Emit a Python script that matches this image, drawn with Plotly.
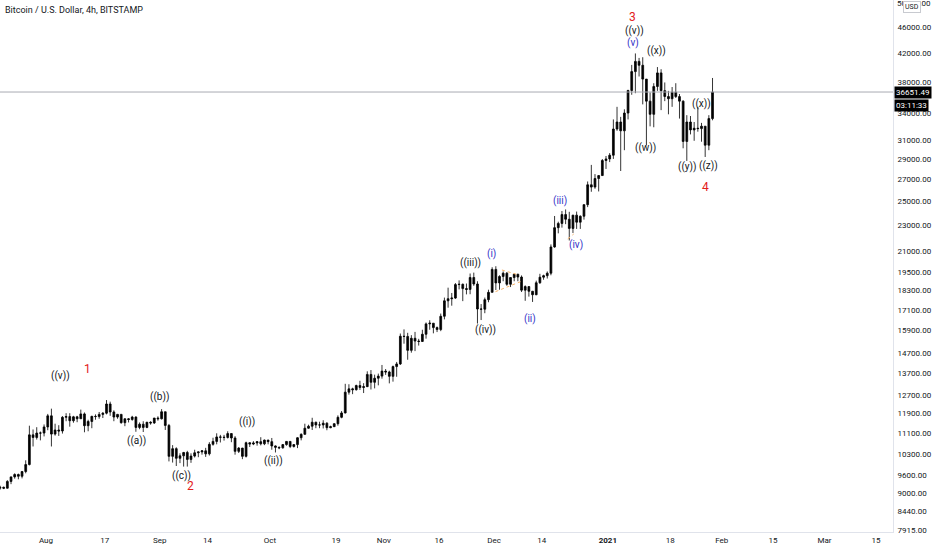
import math
import pandas as pd
import plotly.graph_objects as go

# daily candles, 19 Jul 2020 .. 29 Jan 2021
first_open = 9160
highs = [
    9240, 9210, 9420, 9540, 9650, 9640, 9730, 10100, 11400, 11250, 11340, 11170, 11450,
    11880, 12100, 11480, 11420, 11790, 11910, 11910, 11800, 11800, 12060, 11940, 11640, 11800,
    11860, 11960, 11950, 12470, 12400, 12030, 11880, 11880, 11690, 11710, 11800, 11780, 11530,
    11580, 11550, 11580, 11710, 11780,
    12080, 11970, 11470, 10650, 10570, 10350, 10400, 10440, 10350, 10480, 10410, 10470, 10550,
    10760, 10930, 11100, 11040, 11040, 11180, 11050, 10990, 10580, 10550, 10780, 10760, 10800,
    10800, 10950, 10860, 10850,
    10920, 10640, 10600, 10690, 10800, 10800, 10690, 10950, 11100, 11480, 11440, 11720, 11560,
    11560, 11620, 11540, 11400, 11500, 11820, 12000, 13200, 13180, 13020, 13160, 13340, 13230,
    13790, 13850, 13630, 13680, 14100,
    13900, 13820, 14070, 14250, 15740, 15970, 15780, 15650, 15830, 15450, 15950, 16360, 16490,
    16330, 16130, 16880, 17850, 18480, 18140, 18780, 18960, 18750, 18750, 19420, 19480, 18900,
    17450, 17850, 18350, 19850,
    19920, 19300, 19560, 19520, 19160, 19400, 19400, 19290, 18630, 18560, 18270, 18940, 19400,
    19340, 19560, 21500, 23750, 23280, 24170, 24300, 24100, 23840, 24120, 23800, 24750, 26800,
    28400, 27500, 27400, 28990, 29300,
    29600, 33300, 34800, 33600, 34500, 36940, 40300, 41950, 41300, 41400, 38300, 36600, 37800,
    40000, 39700, 37900, 36800, 37300, 37800, 36400, 35600, 33800, 33700, 33000, 34800, 32900,
    32500, 33800, 38500,
]
lows = [
    9110, 9130, 9150, 9290, 9470, 9450, 9480, 9650, 9920, 10600, 10860, 10830, 10980,
    11220, 10600, 11010, 11000, 11090, 11580, 11360, 11520, 11540, 11680, 11140, 11180, 11300,
    11640, 11680, 11710, 11860, 11800, 11580, 11680, 11480, 11380, 11530, 11600, 11160, 11260,
    11150, 11300, 11440, 11470, 11600,
    11650, 11230, 10060, 10020, 9900, 10000, 9880, 9880, 10010, 10200, 10210, 10300, 10220,
    10270, 10630, 10680, 10750, 10820, 10900, 10760, 10300, 10360, 10140, 10200, 10580, 10650,
    10630, 10640, 10650, 10680,
    10480, 10380, 10500, 10520, 10630, 10540, 10560, 10540, 10830, 11050, 11280, 11230, 11300,
    11300, 11290, 11220, 11300, 11350, 11400, 11700, 11900, 12710, 12730, 12890, 12920, 12780,
    13050, 12940, 12990, 13130, 13440,
    13620, 13220, 13300, 13530, 14100, 15190, 14360, 14720, 14800, 15090, 15280, 15460, 15950,
    15750, 15820, 15870, 16540, 17230, 17350, 17770, 18370, 17630, 18050, 18060, 18600, 16300,
    16500, 16900, 17560, 18180,
    18330, 18350, 18900, 18600, 18520, 18900, 18900, 18200, 17650, 17910, 17580, 18000, 18730,
    19000, 19080, 19300, 21250, 22350, 22800, 23080, 21800, 22380, 22700, 22700, 23450, 24500,
    25850, 26120, 25880, 27330, 28000,
    28680, 29000, 32000, 27800, 29900, 33300, 36300, 36500, 38700, 35100, 30400, 32500, 32400,
    36800, 34400, 35500, 33900, 34800, 35900, 33400, 30100, 28800, 31600, 30900, 31900, 30800,
    29200, 29900, 33200,
]
closes = [
    9190, 9160, 9380, 9530, 9610, 9550, 9710, 9950, 11040, 10940, 11110, 11110, 11350,
    11800, 11070, 11230, 11190, 11740, 11770, 11600, 11760, 11680, 11880, 11400, 11570, 11780,
    11770, 11860, 11910, 12300, 11960, 11750, 11860, 11520, 11680, 11650, 11750, 11330, 11460,
    11330, 11540, 11510, 11710, 11680,
    11970, 11410, 10240, 10520, 10170, 10260, 10380, 10130, 10250, 10370, 10400, 10440, 10330,
    10680, 10790, 10960, 10950, 10940, 11090, 10920, 10420, 10540, 10240, 10740, 10690, 10730,
    10780, 10700, 10840, 10780,
    10620, 10570, 10550, 10670, 10790, 10600, 10670, 10930, 11060, 11300, 11380, 11540, 11430,
    11430, 11500, 11320, 11360, 11480, 11740, 11920, 12820, 12970, 12930, 13120, 13030, 13070,
    13640, 13270, 13460, 13560, 13800,
    13760, 13550, 14020, 14150, 15590, 15580, 14840, 15480, 15330, 15310, 15700, 16280, 16320,
    16070, 15960, 16720, 17650, 17780, 17820, 18680, 18700, 18420, 18370, 19150, 18720, 17150,
    17140, 17720, 18180, 19700,
    18790, 19220, 19440, 18700, 19150, 19370, 19180, 18320, 18550, 18250, 18030, 18800, 19170,
    19270, 19440, 21310, 22800, 23140, 23870, 23480, 22740, 23820, 23240, 23730, 24710, 26490,
    26280, 27080, 27360, 28840, 29000,
    29380, 32200, 33000, 32000, 34050, 36850, 39370, 40800, 40250, 38350, 35500, 33900, 37370,
    39190, 36830, 36080, 35800, 36630, 36070, 35500, 30830, 33000, 32100, 32290, 32250, 32520,
    30430, 33400, 36651.49,
]
opens = [first_open] + closes[:-1]
days = pd.date_range("2020-07-19", periods=len(closes), freq="D") + pd.Timedelta(hours=12)
last_price = 36651.49

# wave labels: text, time, price, colour
wave_text = ["((v))", "1", "((b))", "((a))", "((c))", "2", "((i))", "((ii))",
             "((iii))", "(i)", "((iv))", "(ii)", "(iii)", "(iv)",
             "3", "((v))", "(v)", "((x))", "((w))", "((y))", "((x))", "((z))", "4"]
wave_time = ["2020-08-05 02:00", "2020-08-12 10:00", "2020-08-31 23:00", "2020-08-25 17:00",
             "2020-09-06 22:00", "2020-09-09 08:00", "2020-09-24 21:00", "2020-10-01 22:00",
             "2020-11-24 15:00", "2020-11-30 08:00", "2020-11-28 17:00", "2020-12-10 18:00",
             "2020-12-19 02:00", "2020-12-23 11:00",
             "2021-01-07 17:00", "2021-01-08 06:00", "2021-01-07 19:00", "2021-01-14 04:00",
             "2021-01-11 08:00", "2021-01-22 18:00", "2021-01-26 13:00", "2021-01-28 09:00",
             "2021-01-27 15:00"]
wave_price = [13580, 13900, 12610, 10810, 9573, 9220, 11560, 10090,
              20130, 20790, 15940, 16550, 25060, 21460,
              47600, 45420, 43460, 42270, 30100, 28170, 35150, 28330, 26320]
wave_colour = ["k", "r", "k", "k", "k", "r", "k", "k",
               "k", "b", "k", "b", "b", "b",
               "r", "k", "b", "k", "k", "k", "k", "k", "r"]
palette = {"k": "#131722", "r": "#e3201b", "b": "#3434c8"}

# hand-drawn orange trend lines (start time, start price, end time, end price)
trend_lines = [
    ("2020-12-01 10:00", 18225, "2020-12-08 05:00", 18870),
    ("2020-12-03 04:00", 19660, "2020-12-07 18:00", 19320),
    ("2020-12-21 02:00", 21920, "2020-12-22 17:00", 22300),
]

price_ticks = [7915, 8440, 9000, 9600, 10300, 11100, 11900, 12700, 13700, 14700, 15900,
               17100, 18300, 19500, 21000, 23000, 25000, 27000, 29000, 31000, 34000,
               38000, 42000, 46000]
top_tick = 50000
date_ticks = ["2020-08-01", "2020-08-17", "2020-09-01", "2020-09-14", "2020-10-01",
              "2020-10-19", "2020-11-01", "2020-11-16", "2020-12-01", "2020-12-14",
              "2021-01-01", "2021-01-18", "2021-02-01", "2021-02-15", "2021-03-01",
              "2021-03-15"]
date_labels = ["Aug", "17", "Sep", "14", "Oct", "19", "Nov", "16", "Dec", "14",
               "<b>2021</b>", "18", "Feb", "15", "Mar", "15"]

fnt = "Roboto, Liberation Sans, sans-serif"

candles = go.Candlestick(
    x=days, open=opens, high=highs, low=lows, close=closes,
    increasing=dict(line=dict(color="#000000", width=0.8), fillcolor="#000000"),
    decreasing=dict(line=dict(color="#000000", width=0.8), fillcolor="#000000"),
    whiskerwidth=0, hoverinfo="skip", showlegend=False,
)

fig = go.Figure(data=[candles])

notes = []
for t, d, p, c in zip(wave_text, wave_time, wave_price, wave_colour):
    big = c == "r"
    notes.append(dict(x=d, y=math.log10(p), xref="x", yref="y", text=t, showarrow=False,
                      font=dict(family=fnt, size=12 if big else 10, color=palette[c])))

# title, top price label, USD tag and last price boxes
notes.append(dict(x=0, y=1, xref="paper", yref="paper", xanchor="left", yanchor="top",
                  xshift=3, yshift=-3, showarrow=False,
                  text="Bitcoin / U.S. Dollar, 4h, BITSTAMP",
                  font=dict(family=fnt, size=9, color="#131722")))
notes.append(dict(x=1, y=math.log10(top_tick), xref="paper", yref="y", xanchor="left",
                  xshift=2, showarrow=False, text=f"{top_tick:.2f}",
                  font=dict(family=fnt, size=8, color="#131722")))
notes.append(dict(x=1, y=1, xref="paper", yref="paper", xanchor="left", yanchor="top",
                  xshift=10, yshift=-1, showarrow=False, text="USD",
                  bgcolor="#ffffff", bordercolor="#c8cad0", borderwidth=1, borderpad=1,
                  font=dict(family=fnt, size=7, color="#131722")))
notes.append(dict(x=1, y=math.log10(last_price), xref="paper", yref="y", xanchor="left",
                  xshift=1, showarrow=False, text="36651.49", bgcolor="#000000",
                  borderpad=1, font=dict(family=fnt, size=8, color="#ffffff")))
notes.append(dict(x=1, y=math.log10(last_price), xref="paper", yref="y", xanchor="left",
                  xshift=1, yshift=-13, showarrow=False, text="03:11:33", bgcolor="#000000",
                  borderpad=1, font=dict(family=fnt, size=8, color="#ffffff")))

shapes = [dict(type="line", xref="paper", x0=0, x1=1, yref="y", y0=last_price, y1=last_price,
               line=dict(color="#a9abb2", width=1))]
for t0, p0, t1, p1 in trend_lines:
    shapes.append(dict(type="line", xref="x", yref="y", x0=t0, y0=p0, x1=t1, y1=p1,
                       line=dict(color="#f7b267", width=1, dash="dot")))

fig.update_layout(
    width=932, height=550,
    margin=dict(l=0, r=37, t=0, b=18),
    paper_bgcolor="#ffffff", plot_bgcolor="#ffffff",
    annotations=notes,
    shapes=shapes,
    xaxis=dict(range=["2020-07-19 12:00", "2021-03-19 15:20"], rangeslider=dict(visible=False),
               showgrid=False, zeroline=False, showline=True, linecolor="#e0e3eb",
               tickvals=date_ticks, ticktext=date_labels, ticks="",
               tickfont=dict(family=fnt, size=8, color="#131722")),
    yaxis=dict(type="log", side="right", range=[math.log10(7858), math.log10(50580)],
               showgrid=False, zeroline=False, showline=True, linecolor="#e0e3eb",
               tickvals=price_ticks, ticktext=[f"{v:.2f}" for v in price_ticks], ticks="",
               ticklabelstandoff=2,
               tickfont=dict(family=fnt, size=8, color="#131722")),
)

fig.write_html("out.html", config={"displayModeBar": False},
               post_script="document.body.style.margin='0';")
